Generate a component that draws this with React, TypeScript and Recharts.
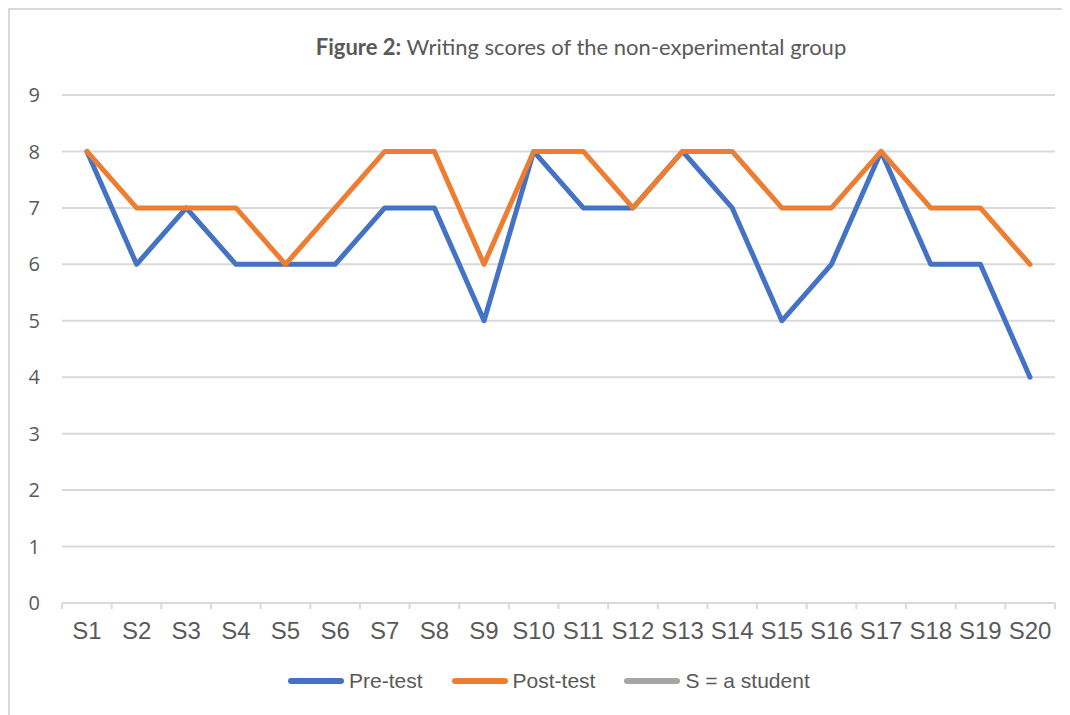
import { LineChart, Line, XAxis, YAxis, CartesianGrid } from 'recharts'

const students = ['S1', 'S2', 'S3', 'S4', 'S5', 'S6', 'S7', 'S8', 'S9', 'S10', 'S11', 'S12', 'S13', 'S14', 'S15', 'S16', 'S17', 'S18', 'S19', 'S20']
const preTest = [8, 6, 7, 6, 6, 6, 7, 7, 5, 8, 7, 7, 8, 7, 5, 6, 8, 6, 6, 4]
const postTest = [8, 7, 7, 7, 6, 7, 8, 8, 6, 8, 8, 7, 8, 8, 7, 7, 8, 7, 7, 6]
const yTicks = [0, 1, 2, 3, 4, 5, 6, 7, 8, 9]
const boundaryTicks = Array.from({ length: students.length + 1 }, (_, i) => i)

const legendItems = [
  { label: 'Pre-test', color: '#4472C4' },
  { label: 'Post-test', color: '#ED7D31' },
  { label: 'S = a student', color: '#A5A5A5' },
]

// slot = category centre on the boundary axis (category i sits between ticks i and i+1)
const data = students.map((name, i) => ({ name, slot: i + 0.5, pre: preTest[i], post: postTest[i] }))

const textColor = '#595959'
const gridColor = '#d9d9d9'

export default function App() {
  return (
    <div
      style={{
        position: 'relative',
        width: 1062,
        height: 707,
        borderTop: `2px solid ${gridColor}`,
        borderLeft: `2px solid ${gridColor}`,
        boxSizing: 'border-box',
        background: 'white',
        overflow: 'hidden',
      }}
    >
      <div
        style={{
          position: 'absolute',
          top: 23,
          left: 300,
          width: 542,
          textAlign: 'center',
          fontFamily: 'Lato, "Open Sans", sans-serif',
          fontSize: 22,
          color: textColor,
          whiteSpace: 'nowrap',
        }}
      >
        <b>Figure 2:</b> Writing scores of the non-experimental group
      </div>

      <LineChart width={1060} height={700} data={data} margin={{ top: 85, right: 15, left: 12, bottom: 66 }}>
        <CartesianGrid vertical={false} stroke={gridColor} strokeWidth={2} />
        <XAxis
          xAxisId="labels"
          dataKey="name"
          padding={{ left: 25, right: 25 }}
          axisLine={false}
          tickLine={false}
          tickSize={0}
          tickMargin={18}
          height={40}
          interval={0}
          tick={{ fill: textColor, fontSize: 24, fontFamily: '"Liberation Sans", Arial, sans-serif' }}
        />
        {/* boundary tick marks between categories, Excel style */}
        <XAxis
          xAxisId="bounds"
          dataKey="slot"
          type="number"
          domain={[0, students.length]}
          allowDataOverflow
          ticks={boundaryTicks}
          tickFormatter={() => ''}
          interval={0}
          height={1}
          stroke={gridColor}
          strokeWidth={2}
          tickSize={6}
        />
        <YAxis
          domain={[0, 9]}
          ticks={yTicks}
          axisLine={false}
          tickLine={false}
          tickSize={0}
          tickMargin={22}
          width={40}
          tick={{ fill: textColor, fontSize: 20, fontFamily: '"Open Sans", sans-serif' }}
        />
        <Line
          xAxisId="labels"
          dataKey="pre"
          stroke="#4472C4"
          strokeWidth={5}
          strokeLinejoin="round"
          strokeLinecap="round"
          dot={false}
          isAnimationActive={false}
        />
        <Line
          xAxisId="labels"
          dataKey="post"
          stroke="#ED7D31"
          strokeWidth={5}
          strokeLinejoin="round"
          strokeLinecap="round"
          dot={false}
          isAnimationActive={false}
        />
      </LineChart>

      {/* Legend */}
      <div
        style={{
          position: 'absolute',
          top: 659,
          left: 278,
          display: 'flex',
          gap: 29,
          fontFamily: '"Liberation Sans", Arial, sans-serif',
          fontSize: 21,
          color: textColor,
          whiteSpace: 'nowrap',
        }}
      >
        {legendItems.map((item) => (
          <div key={item.label} style={{ display: 'flex', alignItems: 'center', gap: 5 }}>
            <div style={{ width: 56, height: 6, borderRadius: 3, background: item.color }} />
            <span>{item.label}</span>
          </div>
        ))}
      </div>
    </div>
  )
}
